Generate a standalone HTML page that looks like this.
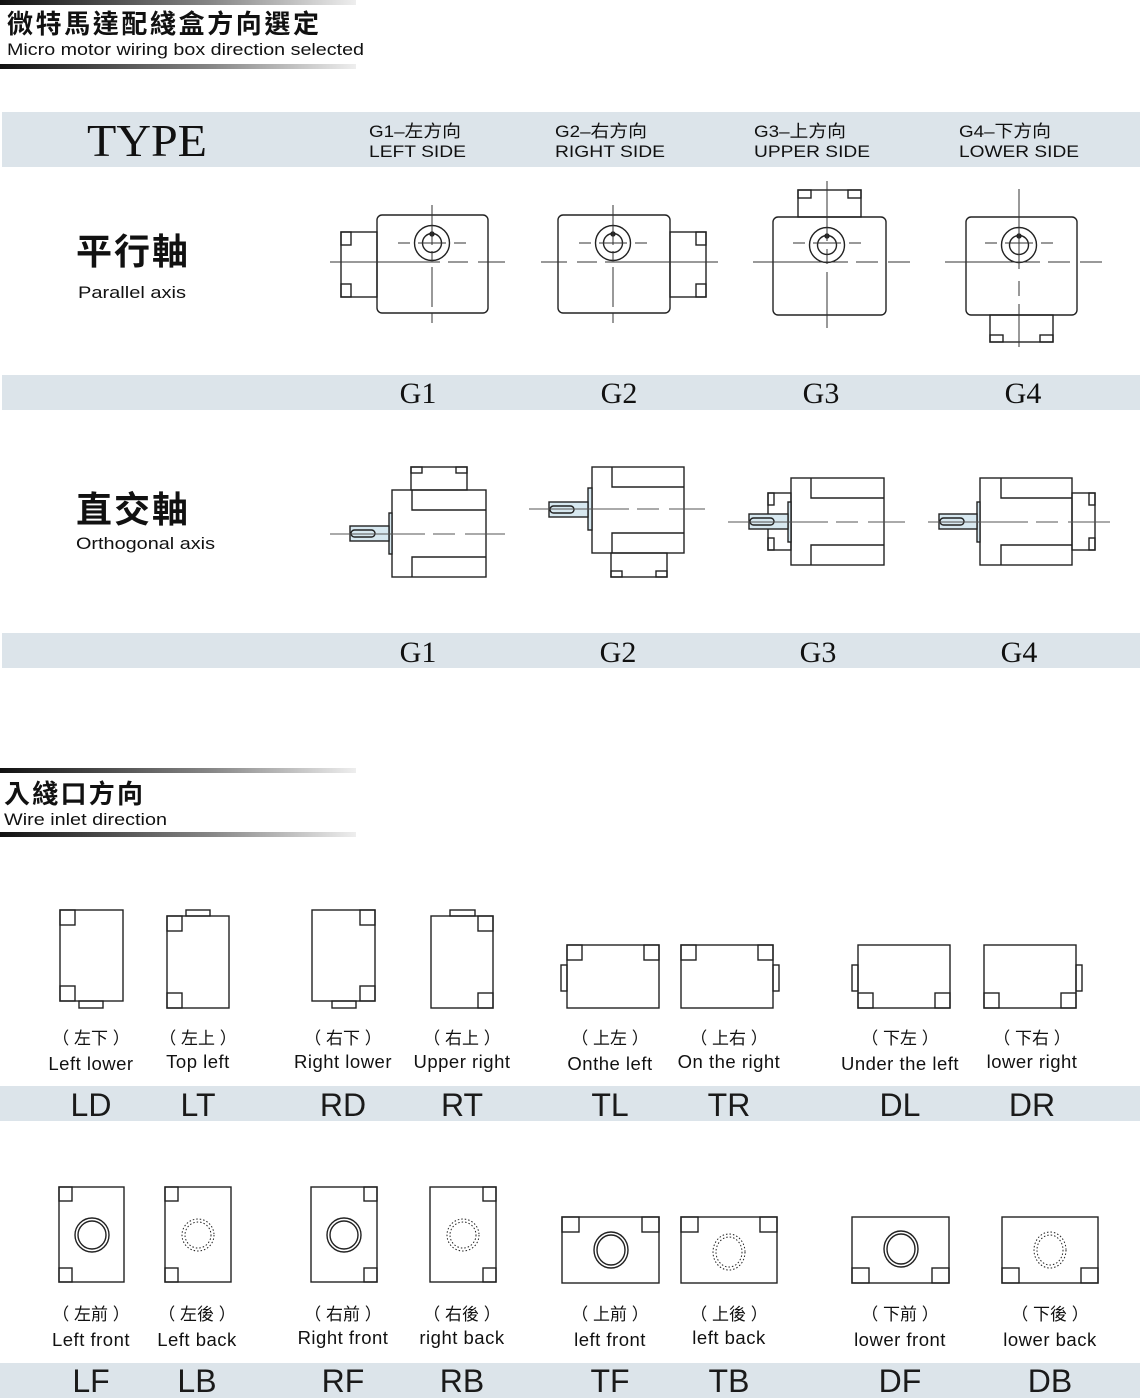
<!DOCTYPE html>
<html><head><meta charset="utf-8"><style>
html,body{margin:0;padding:0;background:#fff}
svg{display:block}
.cn{font-family:"Liberation Sans","Noto Sans CJK TC",sans-serif}
.s{font-family:"Liberation Sans",sans-serif}
.sf{font-family:"Liberation Serif",serif}
</style></head><body>
<svg width="1140" height="1398" viewBox="0 0 1140 1398" xmlns="http://www.w3.org/2000/svg">
<defs>
<linearGradient id="gb" x1="0" x2="1" y1="0" y2="0"><stop offset="0" stop-color="#111"/><stop offset="0.6" stop-color="#888"/><stop offset="1" stop-color="#eee"/></linearGradient>
</defs>
<g fill="none" stroke="#222" stroke-width="1.4">
<rect x="0" y="0" width="356" height="5" fill="url(#gb)" stroke="none"/>
<rect x="0" y="64" width="356" height="5" fill="url(#gb)" stroke="none"/>
<rect x="2" y="112" width="1138" height="55" fill="#dce4ea" stroke="none"/>
<rect x="2" y="375" width="1138" height="35" fill="#dce4ea" stroke="none"/>
<rect x="2" y="633" width="1138" height="35" fill="#dce4ea" stroke="none"/>
<rect x="0" y="1086" width="1140" height="35" fill="#dce4ea" stroke="none"/>
<rect x="0" y="1363" width="1140" height="35" fill="#dce4ea" stroke="none"/>
<rect x="0" y="768" width="356" height="5" fill="url(#gb)" stroke="none"/>
<rect x="0" y="832" width="356" height="5" fill="url(#gb)" stroke="none"/>

<rect x="377" y="215" width="111" height="98" rx="5"/>
<rect x="341" y="232" width="36" height="65"/>
<rect x="341" y="232" width="10" height="13"/><rect x="341" y="284" width="10" height="13"/>
<circle cx="432" cy="243" r="17.5"/><circle cx="432" cy="243" r="9.5"/><circle cx="432" cy="234" r="2" fill="#222"/>
<g stroke-width="1" stroke="#333">
<line x1="432" y1="205" x2="432" y2="325" stroke-dasharray="40 6 10 6"/>
<line x1="330" y1="262" x2="505" y2="262" stroke-dasharray="110 8 20 10"/>
<line x1="398" y1="243" x2="466" y2="243" stroke-dasharray="12 8 28 8"/>
</g>
<rect x="558" y="215" width="112" height="98" rx="5"/>
<rect x="670" y="232" width="36" height="65"/>
<rect x="696" y="232" width="10" height="13"/><rect x="696" y="284" width="10" height="13"/>
<circle cx="613" cy="243" r="17.5"/><circle cx="613" cy="243" r="9.5"/><circle cx="613" cy="234" r="2" fill="#222"/>
<g stroke-width="1" stroke="#333">
<line x1="613" y1="205" x2="613" y2="325" stroke-dasharray="40 6 10 6"/>
<line x1="541" y1="262" x2="718" y2="262" stroke-dasharray="26 10 20 8 120"/>
<line x1="579" y1="243" x2="647" y2="243" stroke-dasharray="12 8 28 8"/>
</g>
<rect x="773" y="217" width="113" height="98" rx="5"/>
<rect x="798" y="190" width="63" height="27"/>
<rect x="798" y="190" width="13" height="8"/><rect x="848" y="190" width="13" height="8"/>
<circle cx="827" cy="245" r="17.5"/><circle cx="827" cy="245" r="9.5"/><circle cx="827" cy="236" r="2" fill="#222"/>
<g stroke-width="1" stroke="#333">
<line x1="827" y1="181" x2="827" y2="328" stroke-dasharray="60 8 15 8"/>
<line x1="753" y1="262" x2="910" y2="262" stroke-dasharray="95 8 22 10"/>
<line x1="793" y1="243" x2="861" y2="243" stroke-dasharray="12 8 28 8"/>
</g>
<rect x="966" y="217" width="111" height="98" rx="5"/>
<rect x="990" y="315" width="63" height="27"/>
<rect x="990" y="335" width="13" height="7"/><rect x="1040" y="335" width="13" height="7"/>
<circle cx="1019" cy="245" r="17.5"/><circle cx="1019" cy="245" r="9.5"/><circle cx="1019" cy="236" r="2" fill="#222"/>
<g stroke-width="1" stroke="#333">
<line x1="1019" y1="189" x2="1019" y2="347" stroke-dasharray="80 12 15 8"/>
<line x1="945" y1="262" x2="1102" y2="262" stroke-dasharray="95 8 22 10"/>
<line x1="985" y1="243" x2="1053" y2="243" stroke-dasharray="12 8 28 8"/>
</g>

<rect x="392" y="490" width="94" height="87"/>
<polyline points="412,490 412,510 486,510"/><polyline points="412,577 412,557 486,557"/>
<rect x="411" y="467" width="56" height="23"/>
<rect x="411" y="467" width="11" height="6"/><rect x="456" y="467" width="11" height="6"/>
<rect x="389" y="513" width="3" height="41" fill="#d7e8f0"/>
<rect x="350" y="526" width="39" height="15" fill="#d7e8f0"/>
<rect x="351" y="530" width="24" height="7" rx="3.5"/>
<line x1="330" y1="534" x2="505" y2="534" stroke="#555" stroke-width="1" stroke-dasharray="95 8 22 10"/>
<rect x="592" y="467" width="92" height="86"/>
<polyline points="612,467 612,487 684,487"/><polyline points="612,553 612,533 684,533"/>
<rect x="611" y="553" width="56" height="24"/>
<rect x="611" y="571" width="11" height="6"/><rect x="656" y="571" width="11" height="6"/>
<rect x="588" y="488" width="4" height="42" fill="#d7e8f0"/>
<rect x="549" y="502" width="39" height="15" fill="#d7e8f0"/>
<rect x="550" y="506" width="24" height="7" rx="3.5"/>
<line x1="529" y1="509" x2="705" y2="509" stroke="#555" stroke-width="1" stroke-dasharray="100 8 22 10"/>
<rect x="791" y="478" width="93" height="87"/>
<polyline points="811,478 811,498 884,498"/><polyline points="811,565 811,545 884,545"/>
<rect x="768" y="493" width="23" height="57"/>
<rect x="768" y="493" width="6" height="12"/><rect x="768" y="538" width="6" height="12"/>
<rect x="788" y="502" width="3" height="40" fill="#d7e8f0"/>
<rect x="749" y="514" width="39" height="15" fill="#d7e8f0"/>
<rect x="750" y="518" width="24" height="7" rx="3.5"/>
<line x1="728" y1="522" x2="905" y2="522" stroke="#555" stroke-width="1" stroke-dasharray="100 8 22 10"/>
<rect x="980" y="478" width="92" height="87"/>
<polyline points="1001,478 1001,498 1072,498"/><polyline points="1001,565 1001,545 1072,545"/>
<rect x="1072" y="493" width="23" height="57"/>
<rect x="1089" y="493" width="6" height="12"/><rect x="1089" y="538" width="6" height="12"/>
<rect x="977" y="502" width="3" height="40" fill="#d7e8f0"/>
<rect x="939" y="514" width="38" height="15" fill="#d7e8f0"/>
<rect x="940" y="518" width="24" height="7" rx="3.5"/>
<line x1="928" y1="522" x2="1110" y2="522" stroke="#555" stroke-width="1" stroke-dasharray="100 8 22 10"/>

<rect x="60" y="910" width="63" height="91"/><rect x="60" y="910" width="15" height="15"/><rect x="60" y="986" width="15" height="15"/><rect x="79" y="1001" width="24" height="7"/>
<rect x="167" y="916" width="62" height="92"/><rect x="167" y="916" width="15" height="15"/><rect x="167" y="993" width="15" height="15"/><rect x="186" y="910" width="24" height="6"/>
<rect x="312" y="910" width="63" height="91"/><rect x="360" y="910" width="15" height="15"/><rect x="360" y="986" width="15" height="15"/><rect x="332" y="1001" width="24" height="7"/>
<rect x="431" y="916" width="62" height="92"/><rect x="478" y="916" width="15" height="15"/><rect x="478" y="993" width="15" height="15"/><rect x="450" y="910" width="25" height="6"/>
<rect x="567" y="945" width="92" height="63"/><rect x="567" y="945" width="15" height="15"/><rect x="644" y="945" width="15" height="15"/><rect x="561" y="965" width="6" height="26"/>
<rect x="681" y="945" width="92" height="63"/><rect x="681" y="945" width="15" height="15"/><rect x="758" y="945" width="15" height="15"/><rect x="773" y="965" width="6" height="26"/>
<rect x="858" y="945" width="92" height="63"/><rect x="858" y="993" width="15" height="15"/><rect x="935" y="993" width="15" height="15"/><rect x="852" y="965" width="6" height="26"/>
<rect x="984" y="945" width="92" height="63"/><rect x="984" y="993" width="15" height="15"/><rect x="1061" y="993" width="15" height="15"/><rect x="1076" y="965" width="6" height="26"/>

<rect x="59" y="1187" width="65" height="95"/><rect x="59" y="1187" width="13" height="14"/><rect x="59" y="1268" width="13" height="14"/>
<circle cx="92" cy="1235" r="17"/><circle cx="92" cy="1235" r="14"/>
<rect x="165" y="1187" width="66" height="95"/><rect x="165" y="1187" width="13" height="14"/><rect x="165" y="1268" width="13" height="14"/>
<circle cx="198" cy="1235" r="16" stroke-dasharray="1.5 2" stroke-width="1"/><circle cx="198" cy="1235" r="13" stroke-dasharray="1.5 2" stroke-width="1"/>
<rect x="311" y="1187" width="66" height="95"/><rect x="364" y="1187" width="13" height="14"/><rect x="364" y="1268" width="13" height="14"/>
<circle cx="344" cy="1235" r="17"/><circle cx="344" cy="1235" r="14"/>
<rect x="430" y="1187" width="66" height="95"/><rect x="483" y="1187" width="13" height="14"/><rect x="483" y="1268" width="13" height="14"/>
<circle cx="463" cy="1235" r="16" stroke-dasharray="1.5 2" stroke-width="1"/><circle cx="463" cy="1235" r="13" stroke-dasharray="1.5 2" stroke-width="1"/>
<rect x="562" y="1217" width="97" height="66"/><rect x="562" y="1217" width="17" height="15"/><rect x="642" y="1217" width="17" height="15"/>
<ellipse cx="611" cy="1250" rx="17" ry="18"/><ellipse cx="611" cy="1250" rx="14" ry="15"/>
<rect x="681" y="1217" width="96" height="66"/><rect x="681" y="1217" width="17" height="15"/><rect x="760" y="1217" width="17" height="15"/>
<ellipse cx="729" cy="1252" rx="16" ry="18" stroke-dasharray="1.5 2" stroke-width="1"/><ellipse cx="729" cy="1252" rx="13" ry="15" stroke-dasharray="1.5 2" stroke-width="1"/>
<rect x="852" y="1217" width="97" height="66"/><rect x="852" y="1268" width="17" height="15"/><rect x="932" y="1268" width="17" height="15"/>
<ellipse cx="901" cy="1249" rx="17" ry="18"/><ellipse cx="901" cy="1249" rx="14" ry="15"/>
<rect x="1002" y="1217" width="96" height="66"/><rect x="1002" y="1268" width="17" height="15"/><rect x="1081" y="1268" width="17" height="15"/>
<ellipse cx="1050" cy="1250" rx="16" ry="18" stroke-dasharray="1.5 2" stroke-width="1"/><ellipse cx="1050" cy="1250" rx="13" ry="15" stroke-dasharray="1.5 2" stroke-width="1"/>
</g>

<g fill="#111">
<text x="7" y="33" class="cn" font-size="26" font-weight="bold" textLength="312" lengthAdjust="spacing">微特馬達配綫盒方向選定</text>
<text x="7" y="55" class="s" font-size="17" textLength="357" lengthAdjust="spacingAndGlyphs">Micro motor wiring box direction selected</text>
<text x="87" y="156" class="sf" font-size="46" textLength="120" lengthAdjust="spacingAndGlyphs">TYPE</text>
<g class="cn" font-size="17">
<text x="369" y="137" textLength="92" lengthAdjust="spacingAndGlyphs">G1–左方向</text><text x="369" y="157" textLength="97" lengthAdjust="spacingAndGlyphs">LEFT SIDE</text>
<text x="555" y="137" textLength="92" lengthAdjust="spacingAndGlyphs">G2–右方向</text><text x="555" y="157" textLength="110" lengthAdjust="spacingAndGlyphs">RIGHT SIDE</text>
<text x="754" y="137" textLength="92" lengthAdjust="spacingAndGlyphs">G3–上方向</text><text x="754" y="157" textLength="116" lengthAdjust="spacingAndGlyphs">UPPER SIDE</text>
<text x="959" y="137" textLength="92" lengthAdjust="spacingAndGlyphs">G4–下方向</text><text x="959" y="157" textLength="120" lengthAdjust="spacingAndGlyphs">LOWER SIDE</text>
</g>
<text x="76" y="264" class="cn" font-size="36" font-weight="bold" textLength="112" lengthAdjust="spacing">平行軸</text>
<text x="78" y="298" class="s" font-size="17" textLength="108" lengthAdjust="spacingAndGlyphs">Parallel axis</text>
<text x="76" y="522" class="cn" font-size="36" font-weight="bold" textLength="112" lengthAdjust="spacing">直交軸</text>
<text x="76" y="549" class="s" font-size="17" textLength="139" lengthAdjust="spacingAndGlyphs">Orthogonal axis</text>
<g class="sf" font-size="30" text-anchor="middle">
<text x="418" y="403">G1</text><text x="619" y="403">G2</text><text x="821" y="403">G3</text><text x="1023" y="403">G4</text>
<text x="418" y="662">G1</text><text x="618" y="662">G2</text><text x="818" y="662">G3</text><text x="1019" y="662">G4</text>
</g>
<text x="4" y="803" class="cn" font-size="26" font-weight="bold" textLength="139" lengthAdjust="spacing">入綫口方向</text>
<text x="4" y="825" class="s" font-size="17" textLength="163" lengthAdjust="spacingAndGlyphs">Wire inlet direction</text>

<g class="cn" font-size="17" text-anchor="middle">
<text x="91" y="1044">（ 左下 ）</text><text x="198" y="1044">（ 左上 ）</text><text x="343" y="1044">（ 右下 ）</text><text x="462" y="1044">（ 右上 ）</text>
<text x="610" y="1044">（ 上左 ）</text><text x="729" y="1044">（ 上右 ）</text><text x="900" y="1044">（ 下左 ）</text><text x="1032" y="1044">（ 下右 ）</text>
<text x="91" y="1320">（ 左前 ）</text><text x="197" y="1320">（ 左後 ）</text><text x="343" y="1320">（ 右前 ）</text><text x="462" y="1320">（ 右後 ）</text>
<text x="610" y="1320">（ 上前 ）</text><text x="729" y="1320">（ 上後 ）</text><text x="900" y="1320">（ 下前 ）</text><text x="1050" y="1320">（ 下後 ）</text>
</g>
<g class="s" font-size="18.5" text-anchor="middle" letter-spacing="0.5">
<text x="91" y="1070">Left lower</text><text x="198" y="1068">Top left</text><text x="343" y="1068">Right lower</text><text x="462" y="1068">Upper right</text>
<text x="610" y="1070">Onthe left</text><text x="729" y="1068">On the right</text><text x="900" y="1070">Under the left</text><text x="1032" y="1068">lower right</text>
<text x="91" y="1346">Left front</text><text x="197" y="1346">Left back</text><text x="343" y="1344">Right front</text><text x="462" y="1344">right back</text>
<text x="610" y="1346">left front</text><text x="729" y="1344">left back</text><text x="900" y="1346">lower front</text><text x="1050" y="1346">lower back</text>
</g>
<g class="s" font-size="32" text-anchor="middle" fill="#1a1a1a">
<text x="91" y="1116">LD</text><text x="198" y="1116">LT</text><text x="343" y="1116">RD</text><text x="462" y="1116">RT</text>
<text x="610" y="1116">TL</text><text x="729" y="1116">TR</text><text x="900" y="1116">DL</text><text x="1032" y="1116">DR</text>
<text x="91" y="1392">LF</text><text x="197" y="1392">LB</text><text x="343" y="1392">RF</text><text x="462" y="1392">RB</text>
<text x="610" y="1392">TF</text><text x="729" y="1392">TB</text><text x="900" y="1392">DF</text><text x="1050" y="1392">DB</text>
</g>
</g>
</svg>
</body></html>
